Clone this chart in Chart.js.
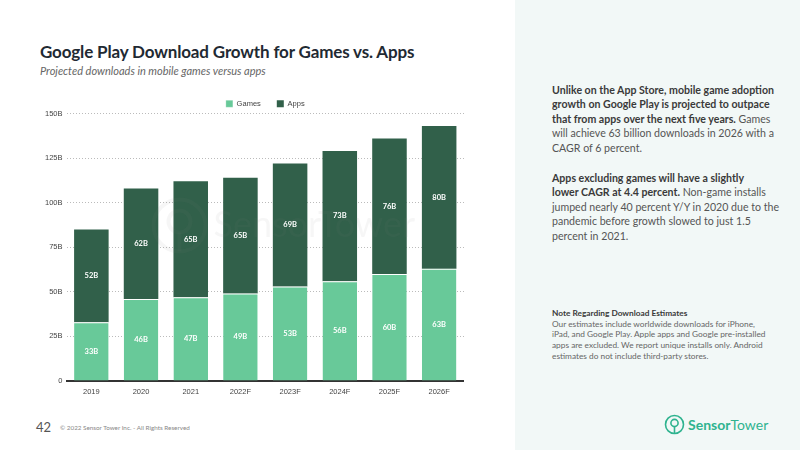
<!DOCTYPE html>
<html>
<head>
<meta charset="utf-8">
<script src="https://cdn.jsdelivr.net/npm/chart.js@4"></script>
<style>
  body { margin: 0; width: 800px; height: 450px; position: relative; overflow: hidden; background: #fff; font-family: Lato, "Open Sans", sans-serif; }
  #title { position: absolute; left: 40px; top: 41px; font-size: 17px; font-weight: 700; color: #1f2a33; letter-spacing: -0.15px; white-space: nowrap; }
  #subtitle { position: absolute; left: 40px; top: 64px; font-size: 11px; font-style: italic; color: #666; white-space: nowrap; }
  #chartBox { position: absolute; left: 41px; top: 84px; width: 423px; height: 318px; }
  #side { position: absolute; left: 515px; top: 0; width: 285px; height: 450px; background: #f2f8f7; }
  .para { position: absolute; left: 37px; font-size: 10.6px; line-height: 14.4px; color: #555; white-space: nowrap; }
  .para b { color: #3a3a3a; }
  #note { position: absolute; left: 37px; top: 308px; font-size: 8.3px; line-height: 10.7px; color: #666; white-space: nowrap; }
  #note b { color: #3a3a3a; }
  #pagenum { position: absolute; left: 36px; top: 419px; font-size: 13px; color: #555; }
  #copy { position: absolute; left: 60px; top: 424px; font-size: 6.3px; color: #888; white-space: nowrap; }
  #logo { position: absolute; left: 664px; top: 414px; display: flex; align-items: center; color: #2fb38f; font-size: 14px; white-space: nowrap; }
</style>
</head>
<body>
<div id="title">Google Play Download Growth for Games vs. Apps</div>
<div id="subtitle">Projected downloads in mobile games versus apps</div>
<div id="chartBox"><canvas id="downloadChart"></canvas></div>
<div id="side">
  <div class="para" style="top:83px"><b>Unlike on the App Store, mobile game adoption<br>growth on Google Play is projected to outpace<br>that from apps over the next five years.</b> Games<br>will achieve 63 billion downloads in 2026 with a<br>CAGR of 6 percent.</div>
  <div class="para" style="top:171px"><b>Apps excluding games will have a slightly<br>lower CAGR at 4.4 percent.</b> Non-game installs<br>jumped nearly 40 percent Y/Y in 2020 due to the<br>pandemic before growth slowed to just 1.5<br>percent in 2021.</div>
  <div id="note"><b>Note Regarding Download Estimates</b><br>Our estimates include worldwide downloads for iPhone,<br>iPad, and Google Play. Apple apps and Google pre-installed<br>apps are excluded. We report unique installs only. Android<br>estimates do not include third-party stores.</div>
</div>
<div id="pagenum">42</div>
<div id="copy">© 2022 Sensor Tower Inc. - All Rights Reserved</div>
<div id="logo">
  <svg width="21" height="21" viewBox="0 0 21 21" style="margin-right:3px">
    <circle cx="10.5" cy="10.5" r="9" fill="none" stroke="#2fb38f" stroke-width="1.6"/>
    <circle cx="10.5" cy="9" r="3.6" fill="none" stroke="#2fb38f" stroke-width="1.6"/>
    <line x1="10.5" y1="12.6" x2="10.5" y2="19.5" stroke="#2fb38f" stroke-width="1.6"/>
  </svg>
  <span style="font-weight:700">Sensor</span><span>Tower</span>
</div>
<script>
// 数据
const years = ['2019', '2020', '2021', '2022F', '2023F', '2024F', '2025F', '2026F'];
const games = [33, 46, 47, 49, 53, 56, 60, 63];
const apps = [52, 62, 65, 65, 69, 73, 76, 80];
const yTicks = [0, 25, 50, 75, 100, 125, 150];

const GAMES_COLOR = '#68c999';
const APPS_COLOR = '#31604a';

// 柱内数值标签
const barLabels = {
    id: 'barLabels',
    afterDatasetsDraw(chart) {
        const ctx = chart.ctx;
        ctx.save();
        ctx.font = 'bold 7.5px Lato, sans-serif';
        ctx.fillStyle = '#ffffff';
        ctx.textAlign = 'center';
        ctx.textBaseline = 'middle';
        chart.data.datasets.forEach((ds, i) => {
            chart.getDatasetMeta(i).data.forEach((bar, j) => {
                const mid = (bar.y + bar.base) / 2;
                ctx.fillText(ds.data[j] + 'B', bar.x, mid);
            });
        });
        ctx.restore();
    }
};

// 水印
const watermark = {
    id: 'watermark',
    afterDatasetsDraw(chart) {
        const ctx = chart.ctx;
        const a = chart.chartArea;
        ctx.save();
        ctx.fillStyle = 'rgba(128,128,128,0.07)';
        ctx.strokeStyle = 'rgba(128,128,128,0.07)';
        ctx.lineWidth = 4;
        const cx = a.left + 113, cy = a.top + 112;
        ctx.beginPath(); ctx.arc(cx, cy, 26, 0, Math.PI * 2); ctx.stroke();
        ctx.beginPath(); ctx.arc(cx, cy - 4, 11, 0, Math.PI * 2); ctx.stroke();
        ctx.beginPath(); ctx.moveTo(cx, cy + 7); ctx.lineTo(cx, cy + 26); ctx.stroke();
        ctx.font = '36px Lato, sans-serif';
        ctx.textBaseline = 'middle';
        ctx.fillText('SensorTower', cx + 34, cy);
        ctx.restore();
    }
};

// 图例高度收紧
const legendFit = {
    id: 'legendFit',
    beforeInit(chart) {
        const fit = chart.legend.fit;
        chart.legend.fit = function () {
            fit.bind(chart.legend)();
            this.height -= 4;
        };
    }
};

new Chart(document.getElementById('downloadChart'), {
    type: 'bar',
    data: {
        labels: years,
        datasets: [
            { label: 'Games', data: games, backgroundColor: GAMES_COLOR, borderColor: '#ffffff', borderWidth: { top: 1 }, borderSkipped: 'bottom' },
            { label: 'Apps', data: apps, backgroundColor: APPS_COLOR, borderColor: '#ffffff', borderWidth: 0 }
        ]
    },
    options: {
        responsive: true,
        maintainAspectRatio: false,
        animation: false,
        datasets: { bar: { barPercentage: 0.695, categoryPercentage: 1 } },
        scales: {
            x: {
                stacked: true,
                grid: { display: false, drawTicks: false },
                border: { color: '#333', width: 2 },
                ticks: { color: '#444', font: { size: 7.5 }, padding: 6 }
            },
            y: {
                stacked: true,
                min: 0,
                max: 150,
                afterBuildTicks: axis => { axis.ticks = yTicks.map(v => ({ value: v })); },
                grid: { color: '#bbbbbb', lineWidth: 1, drawTicks: false },
                border: { display: false, dash: [1, 2] },
                ticks: {
                    color: '#444', font: { size: 7.5 }, padding: 4,
                    callback: v => v === 0 ? '0' : v + 'B'
                }
            }
        },
        plugins: {
            legend: {
                position: 'top',
                fullSize: false,
                labels: { boxWidth: 7, boxHeight: 7, font: { size: 7.5 }, color: '#444', padding: 16 }
            },
            tooltip: { enabled: false }
        }
    },
    plugins: [legendFit, watermark, barLabels]
});
</script>
</body>
</html>
